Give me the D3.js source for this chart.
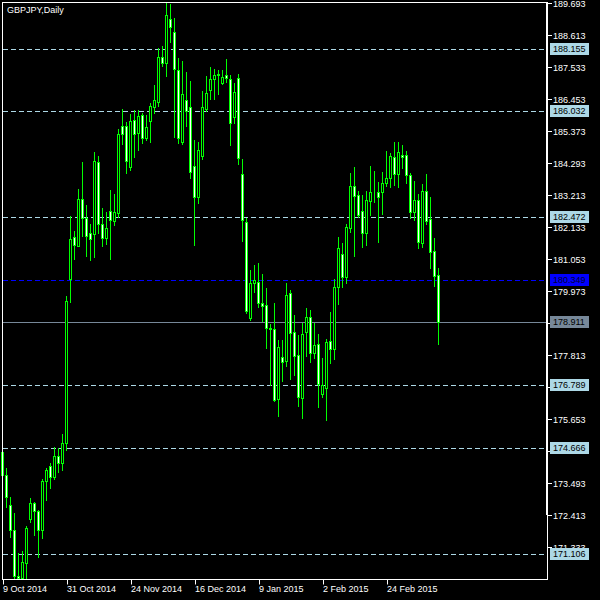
<!DOCTYPE html>
<html><head><meta charset="utf-8">
<script src="https://cdn.jsdelivr.net/npm/d3@7"></script>
<style>html,body{margin:0;padding:0;background:#000;} svg{display:block;}</style>
</head><body>
<svg id="chart" width="600" height="600"></svg>
<script>
const title = "GBPJPY,Daily";
const open = [174.54,173.76,172.74,171.92,170.35,170.29,170.79,172.28,172.82,172.55,
171.91,173.56,174.06,173.71,174.39,174.18,174.84,180.37,181.79,181.50,
183.07,182.43,181.92,181.90,184.32,182.22,181.77,182.67,182.35,182.62,
185.54,185.54,184.17,185.73,185.30,185.91,185.15,185.72,186.19,186.36,
187.88,187.68,189.14,188.70,187.42,185.01,186.42,186.17,184.18,183.14,
184.52,186.13,186.75,187.12,187.25,187.00,187.25,187.12,185.84,187.15,
183.92,182.31,179.05,180.25,180.27,179.56,179.49,178.73,178.68,176.32,
177.74,177.62,179.90,178.58,177.80,176.35,178.58,179.10,177.87,178.17,
176.49,176.71,178.28,178.01,180.10,181.21,180.46,182.11,183.52,183.20,
182.67,181.94,183.02,183.30,183.31,183.32,183.61,183.80,184.49,183.91,
184.56,184.55,183.88,182.63,183.04,181.60,183.35,182.40,181.32,180.51];
const high = [174.71,173.99,173.01,172.48,171.14,171.20,172.04,173.00,172.84,172.58,
173.63,174.00,174.17,174.71,174.67,175.15,179.80,182.50,182.00,183.42,
184.33,182.88,182.23,184.65,184.53,182.76,182.63,183.37,183.25,185.43,
186.12,185.69,185.95,186.08,186.08,185.97,185.91,186.31,186.93,188.16,
188.24,189.693,189.66,189.18,187.83,187.74,187.36,187.06,185.07,184.99,
186.72,187.23,187.53,187.46,187.43,187.43,187.79,187.26,186.98,187.30,
184.43,182.43,180.68,180.85,180.92,180.55,180.06,178.85,179.56,178.32,
178.32,180.23,180.01,179.16,178.48,178.88,179.41,179.33,178.88,178.52,
177.72,178.34,179.27,180.38,181.80,181.59,182.23,183.97,184.17,183.35,
183.21,183.35,184.19,184.02,183.65,184.00,184.70,184.64,184.99,184.99,
184.90,184.70,183.97,183.69,183.25,183.57,183.92,183.15,181.77,180.76];
const low = [173.73,172.69,171.68,170.28,170.253,170.28,170.28,172.19,171.74,171.01,
171.65,172.92,173.33,173.64,173.87,173.94,174.61,179.61,181.06,181.48,
181.83,181.16,181.03,181.13,181.94,181.49,181.57,181.05,182.21,182.46,
184.92,183.95,184.06,184.51,184.73,184.96,185.07,185.01,185.99,186.22,
187.58,187.23,188.38,185.18,184.96,184.95,185.55,183.80,181.53,182.95,
184.42,186.06,186.46,186.46,186.61,186.96,187.02,184.90,185.63,184.26,
181.67,179.22,179.00,179.95,179.44,178.96,178.04,176.80,176.27,175.75,
176.95,177.44,177.01,177.14,176.10,175.70,177.79,177.59,177.70,176.07,
176.39,175.62,177.55,177.68,179.52,180.12,180.23,181.97,181.15,182.46,
181.47,181.53,182.54,182.99,181.64,182.57,183.52,183.49,183.55,183.49,
184.13,183.63,182.45,182.37,181.43,181.47,182.23,180.76,180.15,178.18];
const close = [173.76,173.03,171.92,170.36,170.29,170.83,171.97,172.82,172.55,171.91,
173.56,173.93,173.71,174.39,174.18,174.84,179.64,181.74,181.52,183.07,
182.43,181.82,181.74,184.35,182.22,181.77,182.09,182.36,182.63,185.26,
185.26,184.37,185.71,185.26,185.88,185.15,185.50,186.22,186.42,187.86,
187.68,189.29,188.87,187.48,185.13,186.61,186.06,183.98,183.14,184.72,
186.17,186.65,187.13,187.25,187.30,187.19,187.17,185.65,186.68,184.45,
182.36,179.29,180.23,180.34,179.58,179.48,178.71,178.68,176.29,178.07,
177.57,179.83,178.55,177.77,176.41,178.51,179.10,177.87,178.14,176.82,
176.80,178.25,178.01,180.10,181.41,180.44,182.12,183.52,183.19,182.53,
181.94,183.04,183.31,183.32,183.16,183.62,183.78,184.53,183.91,184.65,
184.51,183.88,182.63,183.04,181.64,183.35,182.35,181.30,180.49,178.911];
const priceTicks = [189.693,188.613,187.533,186.453,185.373,184.293,183.213,182.133,181.053,
179.973,178.893,177.813,176.733,175.653,174.573,173.493,172.413,171.333];
const levelLines = [188.155,186.032,182.472,176.789,174.666,171.106];
const blueLine = 180.349;
const bidPrice = 178.911;
const dateTickIndex = [0,16,32,48,64,80,96];
const dateTickLabels = ["9 Oct 2014","31 Oct 2014","24 Nov 2014","16 Dec 2014","9 Jan 2015","2 Feb 2015","24 Feb 2015"];
const priceMin = 170.253, priceMax = 189.693;

const FONT = "'Liberation Sans', Arial, sans-serif";
const GREEN = "#00ff00";
const svg = d3.select("#chart");
svg.append("rect").attr("width", 600).attr("height", 600).attr("fill", "#000");

const x = d3.scaleLinear().domain([0, 109]).range([2.5, 438.5]);
const y = d3.scaleLinear().domain([priceMin, priceMax]).range([579, 3]);
const snap = v => Math.round(v) + 0.5;
const boxed = levelLines.concat([blueLine, bidPrice]);

// horizontal level lines
const lv = svg.append("g");
lv.selectAll("line.lvl").data(levelLines).join("line")
  .attr("x1", 3).attr("x2", 547).attr("y1", d => snap(y(d))).attr("y2", d => snap(y(d)))
  .attr("stroke", "#add8e6").attr("stroke-width", 1).attr("stroke-dasharray", "5,3");
lv.append("line").attr("x1", 3).attr("x2", 547).attr("y1", snap(y(blueLine))).attr("y2", snap(y(blueLine)))
  .attr("stroke", "#0000ff").attr("stroke-width", 1).attr("stroke-dasharray", "5,3");
lv.append("line").attr("x1", 3).attr("x2", 547).attr("y1", snap(y(bidPrice))).attr("y2", snap(y(bidPrice)))
  .attr("stroke", "#778899").attr("stroke-width", 1);

// candles
const idx = d3.range(open.length);
const cg = svg.append("g");
cg.selectAll("line.wick").data(idx).join("line")
  .attr("x1", i => x(i)).attr("x2", i => x(i))
  .attr("y1", i => Math.round(y(high[i]))).attr("y2", i => Math.round(y(low[i])) + 1)
  .attr("stroke", GREEN).attr("stroke-width", 1);
cg.selectAll("rect.body").data(idx).join("rect")
  .attr("x", i => x(i) - 1)
  .attr("width", 2)
  .attr("y", i => snap(y(Math.max(open[i], close[i]))))
  .attr("height", i => Math.max(0, snap(y(Math.min(open[i], close[i]))) - snap(y(Math.max(open[i], close[i])))))
  .attr("fill", i => close[i] < open[i] ? "#ffffff" : "#000000")
  .attr("stroke", GREEN).attr("stroke-width", 1);

// frame
svg.append("line").attr("x1", 2).attr("x2", 548).attr("y1", 2.5).attr("y2", 2.5).attr("stroke", "#fff");
svg.append("line").attr("x1", 2.5).attr("x2", 2.5).attr("y1", 2).attr("y2", 580).attr("stroke", "#fff");
svg.append("rect").attr("x", 546).attr("y", 2).attr("width", 2).attr("height", 513).attr("fill", "#fff");
svg.append("line").attr("x1", 547.5).attr("x2", 547.5).attr("y1", 515).attr("y2", 580).attr("stroke", "#fff");

// bottom axis
const xAxis = d3.axisBottom(x).tickValues(dateTickIndex)
  .tickFormat((d, k) => dateTickLabels[k]).tickSize(5).tickSizeOuter(0);
const gx = svg.append("g").attr("transform", "translate(0,579.5)").call(xAxis);
gx.select(".domain").attr("d", "M2,0H548").attr("stroke", "#fff");
gx.selectAll(".tick line").attr("stroke", "#fff").attr("transform", "translate(0.5,0)");
gx.selectAll(".tick text").attr("fill", "#fff").attr("font-family", FONT).attr("font-size", 9)
  .attr("text-anchor", "start").attr("x", 0).attr("y", 12).attr("dy", 0);

// right axis (labels fully covered by a price box are not drawn, as in the original)
const fullyCovered = d => boxed.some(b => Math.abs(y(b) - y(d)) < 3);
const yAxis = d3.axisRight(y).tickValues(priceTicks)
  .tickFormat(d => fullyCovered(d) ? "" : d3.format(".3f")(d)).tickSize(4).tickSizeOuter(0);
const gy = svg.append("g").attr("transform", "translate(548,0)").call(yAxis);
gy.select(".domain").remove();
gy.selectAll(".tick line").attr("stroke", "#fff");
gy.selectAll(".tick text").attr("fill", "#fff").attr("font-family", FONT).attr("font-size", 9)
  .attr("x", 5).attr("dy", "0.35em");

// price labels
function priceBox(v, bg, fg) {
  const yy = Math.round(y(v));
  svg.append("rect").attr("x", 550).attr("y", yy - 6).attr("width", 39).attr("height", 12).attr("fill", bg);
  svg.append("text").attr("x", 553).attr("y", yy).attr("dy", "0.35em").attr("fill", fg)
    .attr("font-family", FONT).attr("font-size", 9).text(v.toFixed(3));
}
levelLines.forEach(v => priceBox(v, "#add8e6", "#000"));
priceBox(blueLine, "#0000ff", "#000033");
priceBox(bidPrice, "#778899", "#000");

// title
svg.append("text").attr("x", 7).attr("y", 13).attr("fill", "#fff")
  .attr("font-family", FONT).attr("font-size", 9).text(title);
</script>
</body></html>
